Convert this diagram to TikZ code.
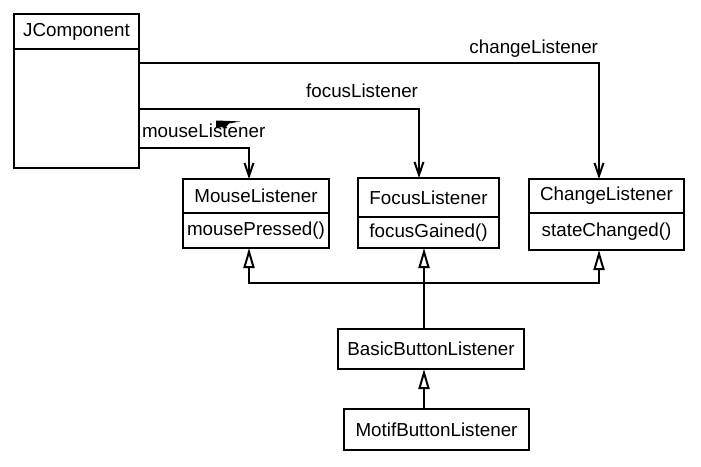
\documentclass[tikz,border=0pt]{standalone}
\usepackage{fontspec}
\setmainfont{Liberation Sans}
\usetikzlibrary{arrows.meta}
\begin{document}
\begin{tikzpicture}[x=1pt, y=-1pt, line width=2pt, font=\fontsize{18.8}{22}\selectfont,
  cls/.style={draw, rectangle, inner sep=0pt, outer sep=0pt},
  lbl/.style={inner sep=0pt},
  assoc/.style={-{Straight Barb[length=13pt,width=9pt]}},
  gen/.style={-{Triangle[open,fill=white,length=20pt,width=11pt]}}]
       \useasboundingbox (0,0) rectangle (701,466);

       \node[cls, minimum width=125pt, minimum height=35pt] (jcomp) at (76.5, 31.5) {JComponent};
       \node[cls, minimum width=125pt, minimum height=119pt, anchor=north] (jcompbody) at (jcomp.south) {};

       \node[cls, minimum width=146pt, minimum height=34pt] (mouse) at (256, 196) {MouseListener};
       \node[cls, minimum width=146pt, minimum height=35pt, anchor=north] (mouseops) at (mouse.south) {mousePressed()};
       \node[cls, minimum width=141pt, minimum height=39pt] (focus) at (428.5, 197.5) {FocusListener};
       \node[cls, minimum width=141pt, minimum height=31pt, anchor=north] (focusops) at (focus.south) {focusGained()};
       \node[cls, minimum width=155pt, minimum height=34pt] (change) at (606.5, 196) {ChangeListener};
       \node[cls, minimum width=155pt, minimum height=37pt, anchor=north] (changeops) at (change.south) {stateChanged()};

       \node[cls, minimum width=186pt, minimum height=40pt] (basic) at (431, 349) {BasicButtonListener};
       \node[cls, minimum width=185pt, minimum height=41pt] (motif) at (436.5, 429.5) {MotifButtonListener};

       \draw[assoc] (jcompbody.north east) ++(0,14) -| node[lbl, pos=0.5, anchor=base east, yshift=10pt] {changeListener} ([xshift=-7.5pt]change.north);
       \draw[assoc] (jcompbody.north east) ++(0,60) -| node[lbl, pos=0.5, anchor=base east, yshift=12pt] {focusListener} ([xshift=-9.5pt]focus.north);
       \draw[assoc] (jcompbody.north east) ++(0,99) -| node[lbl, pos=0, anchor=base west, xshift=2pt, yshift=11pt] {mouseListener} ([xshift=-7pt]mouse.north);
       \fill[line width=0pt] (216,120.5) -- (231,121) -- (240,121.5) -- (229,123.5) -- (226,127) -- (216,127) -- cycle;

       \draw[gen] ([xshift=-7pt]basic.north) -- ([xshift=-4.5pt]focusops.south);
       \draw[gen] ([xshift=-7pt]basic.north) ++(0,-46) -| ([xshift=-7pt]mouseops.south);
       \draw[gen] ([xshift=-7pt]basic.north) ++(0,-46) -| ([xshift=-7.5pt]changeops.south);
       \draw[gen] ([xshift=-12.5pt]motif.north) -- ([xshift=-7pt]basic.south);
\end{tikzpicture}
\end{document}
